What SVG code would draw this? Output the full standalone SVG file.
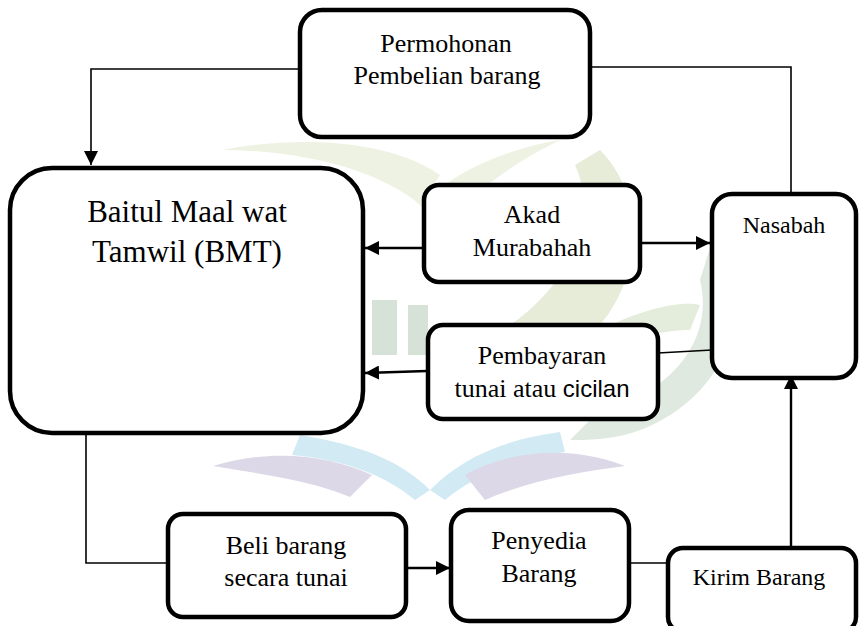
<svg xmlns="http://www.w3.org/2000/svg" width="859" height="626" viewBox="0 0 859 626">
<style>
.box{fill:#fff;stroke:#000;stroke-width:4.5}
.t{font-family:"Liberation Serif","Times New Roman",serif;fill:#000;text-anchor:middle;font-size:26px}
.c{fill:none;stroke:#000;stroke-width:1.6}
.ca{fill:none;stroke:#000;stroke-width:2.4}
</style>
<defs>
<marker id="ah" viewBox="0 0 10 10" refX="10" refY="5" markerWidth="14" markerHeight="14" orient="auto" markerUnits="userSpaceOnUse">
<path d="M0,0 L10,5 L0,10 z" fill="#000"/>
</marker>
</defs>
<rect width="859" height="626" fill="#fff"/>
<g id="watermark">
<path d="M222,150 C300,150 380,170 420,205 L440,175 C390,140 300,135 222,150 Z" fill="#eef2e2"/>
<path d="M420,205 C450,175 500,150 560,140 C520,160 480,185 440,230 Z" fill="#eef2e2"/>
<path d="M600,150 C650,200 640,290 590,335 L495,335 C570,290 600,220 575,165 Z" fill="#e6ecd8"/>
<path d="M714,235 C760,300 730,390 650,426 C620,440 590,440 570,440 L600,410 C670,395 715,340 700,280 Z" fill="#dfe9df"/>
<path d="M600,330 C640,310 680,300 700,305 L690,330 C660,330 630,340 610,350 Z" fill="#e4ecdc"/>
<rect x="372" y="300" width="25" height="55" fill="#d6e2d8"/>
<rect x="408" y="305" width="20" height="50" fill="#d6e2d8"/>
<path d="M300,435 C360,445 400,460 430,490 L415,500 C385,475 345,460 292,455 Z" fill="#d2eaf3"/>
<path d="M560,432 C500,440 460,460 430,490 L445,500 C475,475 515,460 565,452 Z" fill="#d2eaf3"/>
<path d="M213,466 C270,448 330,455 372,475 L350,497 C310,480 260,474 213,466 Z" fill="#dcd8e7"/>
<path d="M625,466 C570,445 510,450 465,475 L485,500 C530,480 580,472 625,466 Z" fill="#dcd8e7"/>
</g>
<g id="connectors">
<path class="c" d="M300,69 H91 V165" marker-end="url(#ah)"/>
<path class="c" d="M590,67 H791 V192"/>
<line class="ca" x1="423" y1="248" x2="365" y2="248" marker-end="url(#ah)"/>
<line class="ca" x1="641" y1="243" x2="710" y2="243" marker-end="url(#ah)"/>
<line class="c" x1="658" y1="353" x2="712" y2="350"/>
<line class="ca" x1="427" y1="371" x2="365" y2="373" marker-end="url(#ah)"/>
<path class="c" d="M86,434 V563 H167"/>
<line class="ca" x1="406" y1="568" x2="450" y2="568" marker-end="url(#ah)"/>
<line class="c" x1="629" y1="563" x2="668" y2="563"/>
<line class="ca" x1="791" y1="548" x2="791" y2="375" marker-end="url(#ah)"/>
</g>
<g id="permohonan">
<rect class="box" x="300" y="10" width="290" height="127" rx="22"/>
<text class="t" x="446" y="52">Permohonan</text>
<text class="t" x="447" y="84">Pembelian barang</text>
</g>
<g id="bmt">
<rect class="box" x="10" y="168" width="353" height="265" rx="42"/>
<text class="t" x="187" y="222" style="font-size:31px">Baitul Maal wat</text>
<text class="t" x="187" y="262" style="font-size:31px">Tamwil (BMT)</text>
</g>
<g id="akad">
<rect class="box" x="424" y="185" width="216" height="97" rx="15"/>
<text class="t" x="532" y="223">Akad</text>
<text class="t" x="532" y="256">Murabahah</text>
</g>
<g id="nasabah">
<rect class="box" x="712" y="194" width="144" height="184" rx="20"/>
<text class="t" x="784" y="233" style="font-size:24px">Nasabah</text>
</g>
<g id="pembayaran">
<rect class="box" x="428" y="325" width="230" height="94" rx="15"/>
<text class="t" x="542" y="364">Pembayaran</text>
<text class="t" x="542" y="397">tunai atau <tspan style="font-family:'Liberation Sans','Open Sans',sans-serif;font-size:24px">cicilan</tspan></text>
</g>
<g id="beli">
<rect class="box" x="168" y="514" width="238" height="103" rx="15"/>
<text class="t" x="286" y="554">Beli barang</text>
<text class="t" x="286" y="586">secara tunai</text>
</g>
<g id="penyedia">
<rect class="box" x="451" y="510" width="178" height="111" rx="18"/>
<text class="t" x="539" y="549">Penyedia</text>
<text class="t" x="539" y="582">Barang</text>
</g>
<g id="kirim">
<rect class="box" x="668" y="548" width="188" height="84" rx="15"/>
<text class="t" x="759" y="585" style="font-size:24px">Kirim Barang</text>
</g>
</svg>
